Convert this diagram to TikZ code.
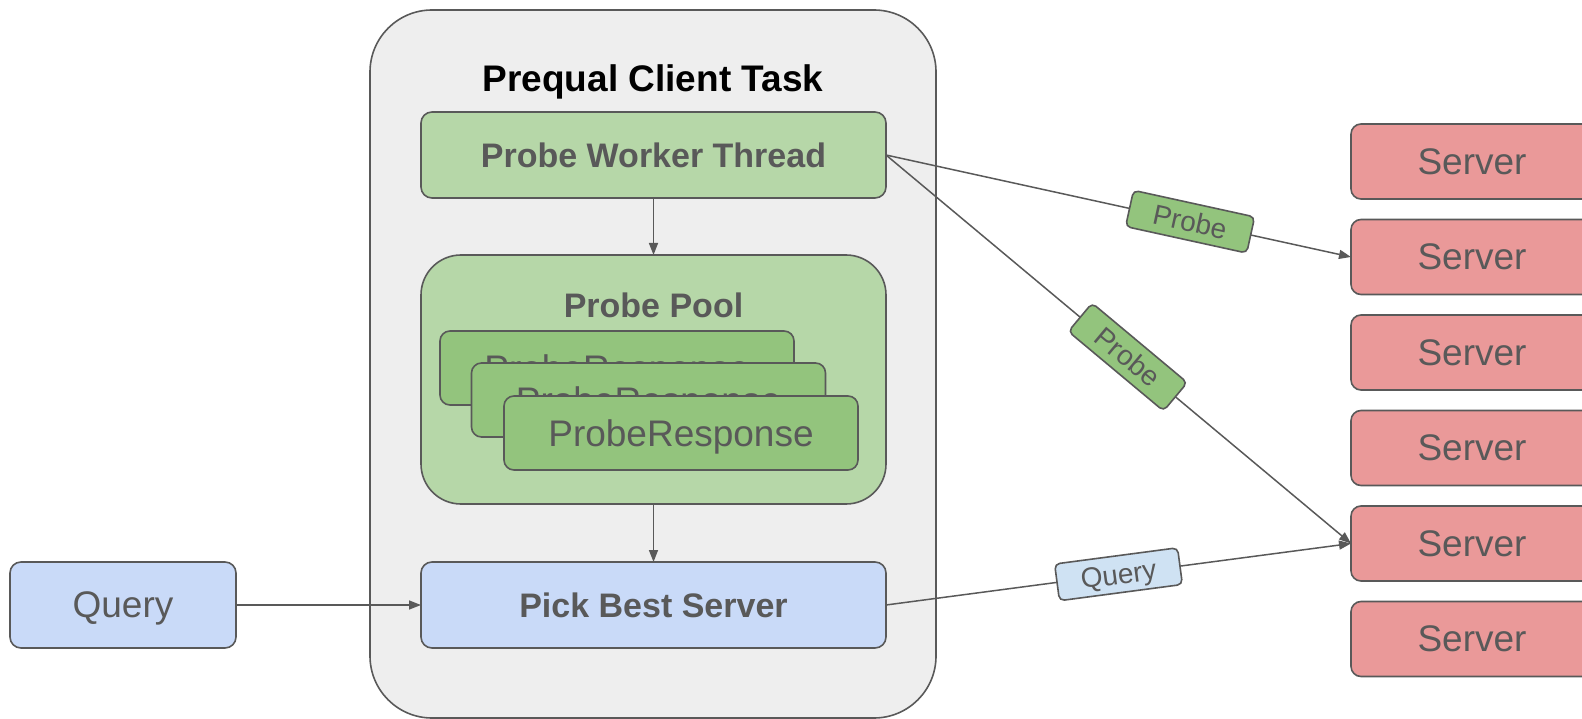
\documentclass[tikz,border=0pt]{standalone}
\usepackage{fontspec}
\setmainfont{Liberation Sans}
\usetikzlibrary{arrows.meta}
\definecolor{ink}{HTML}{595959}
\definecolor{cfill}{HTML}{EEEEEE}
\definecolor{lgreen}{HTML}{B6D7A8}
\definecolor{dgreen}{HTML}{93C47D}
\definecolor{lblue}{HTML}{C9DAF8}
\definecolor{qblue}{HTML}{CFE2F3}
\definecolor{lred}{HTML}{EA9999}
\tikzset{
  base/.style={draw=ink, line width=1.6pt, outer sep=0pt, inner sep=0pt, text=ink, text depth=0pt},
  boldbox/.style={base, rounded corners=11pt, font=\fontsize{34}{40}\selectfont\bfseries, minimum width=465pt, minimum height=86pt},
  card/.style={base, fill=dgreen, rounded corners=10pt, font=\fontsize{37}{44}\selectfont, minimum width=354pt, minimum height=74pt},
  serverbox/.style={base, fill=lred, rounded corners=10pt, font=\fontsize{37}{44}\selectfont, minimum width=242pt, minimum height=75pt},
  conn/.style={draw=ink, line width=1.5pt, -{Triangle[length=12pt,width=9pt]}},
  lbl/.style={base, rounded corners=5pt, sloped, font=\fontsize{28}{33}\selectfont, minimum width=124pt, minimum height=37pt},
  plain/.style={inner sep=0pt, text depth=0pt},
}
\begin{document}
\begin{tikzpicture}[x=1pt,y=-1pt]
\useasboundingbox (0,0) rectangle (1582,719);
\begin{scope}
\clip (0,0) rectangle (1582,719);
% container
\node[base, fill=cfill, rounded corners=62pt, minimum width=566pt, minimum height=708pt] (cont) at (653,364) {};
\node[plain, font=\fontsize{37}{44}\selectfont\bfseries, text=black] (title) at (653,78) {Prequal Client Task};
\node[boldbox, fill=lgreen] (pwt) at (653.5,155) {Probe Worker Thread};
\node[base, fill=lgreen, rounded corners=40pt, minimum width=465pt, minimum height=249pt] (pool) at (653.5,379.5) {};
\node[plain, font=\fontsize{34}{40}\selectfont\bfseries, text=ink] (pooltitle) at (653.5,305) {Probe Pool};
\node[card] (c1) at (617,368) {ProbeResponse};
\node[card] (c2) at (648.5,400) {ProbeResponse};
\node[card] (c3) at (681,433) {ProbeResponse};
\node[boldbox, fill=lblue] (pick) at (653.5,605) {Pick Best Server};
\node[base, fill=lblue, rounded corners=11pt, font=\fontsize{37}{44}\selectfont, minimum width=226pt, minimum height=86pt] (query) at (123,605) {Query};
% servers
\node[serverbox] (s1) at (1472,161.5) {Server};
\node[serverbox] (s2) at (1472,257) {Server};
\node[serverbox] (s3) at (1472,352.5) {Server};
\node[serverbox] (s4) at (1472,448) {Server};
\node[serverbox] (s5) at (1472,543.5) {Server};
\node[serverbox] (s6) at (1472,639) {Server};
% connectors
\draw[conn] (pwt) -- (pool);
\draw[conn] (pool) -- (pick);
\draw[conn] (query) -- (pick);
\draw[conn] (pwt.east) -- node[lbl, fill=dgreen, pos=0.654] {Probe} (s2.west);
\draw[conn] (pwt.east) -- node[lbl, fill=dgreen, pos=0.52] {Probe} (s5.west);
\draw[conn] (pick.east) -- node[lbl, fill=qblue, pos=0.5] {Query} (s5.west);
\end{scope}
\end{tikzpicture}
\end{document}
